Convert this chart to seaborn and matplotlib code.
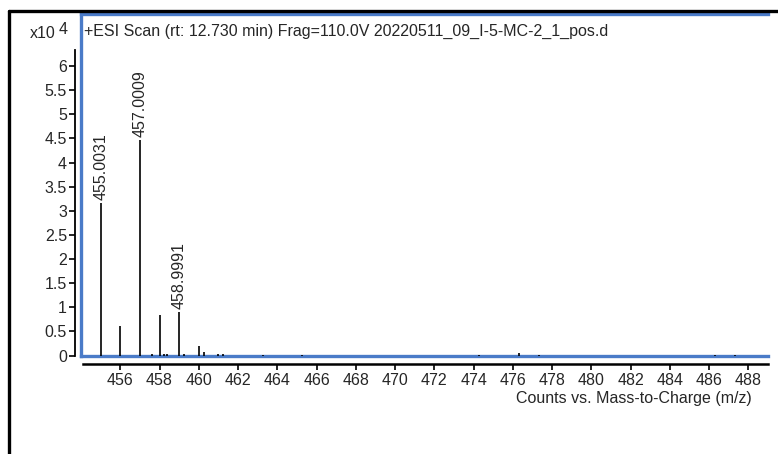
import matplotlib
matplotlib.use("Agg")
import matplotlib.pyplot as plt
from matplotlib.lines import Line2D
import seaborn as sns

# peak list (m/z, counts in units of 1e4)
mz = [455.0031, 456.006, 457.0009, 458.003, 458.9991, 460.0,
      457.63, 458.24, 458.40, 459.23, 460.28, 460.99, 461.25,
      463.25, 465.26, 474.29, 476.31, 477.33, 486.30, 487.34]
counts = [3.17, 0.61, 4.47, 0.85, 0.90, 0.19,
          0.03, 0.04, 0.04, 0.04, 0.07, 0.03, 0.03,
          0.02, 0.02, 0.02, 0.06, 0.02, 0.02, 0.02]
labelled = [455.0031, 457.0009, 458.9991]
xticks = list(range(456, 489, 2))
yticks = [i * 0.5 for i in range(13)]
title = "+ESI Scan (rt: 12.730 min) Frag=110.0V 20220511_09_I-5-MC-2_1_pos.d"
xlabel = "Counts vs. Mass-to-Charge (m/z)"

sns.set_theme(style = "white")
plt.rcParams["font.family"] = ["Liberation Sans", "DejaVu Sans"]
fs = 11.5

blue = "#4A7BC8"
fig = plt.figure(figsize = (7.78, 4.54), dpi = 100)
pos = [81 / 778, 1 - 356 / 454, 687 / 778, 342 / 454]
ax = fig.add_axes(pos)
ax.vlines(mz, 0, counts, color = "black", linewidth = 1.2)
for x, y in zip(mz, counts):
    if x in labelled:
        ax.annotate(f"{x:.4f}", (x, y), xytext = (0, 2), textcoords = "offset points",
                    rotation = 90, ha = "center", va = "bottom", fontsize = fs)
ax.set_xlim(454.0, 489.0)
ax.set_ylim(-0.01, 7.08)
ax.set_xticks(xticks)
ax.set_yticks(yticks)
ax.set_yticklabels([f"{v:g}" for v in yticks])
sns.despine(ax = ax, top = True, right = True)
ax.spines["left"].set_position(("outward", 4))
ax.spines["left"].set_bounds(0, 6.34)
ax.spines["left"].set_color("black")
ax.spines["left"].set_linewidth(1.3)
ax.spines["bottom"].set_position(("outward", 6))
ax.spines["bottom"].set_bounds(454.1, 489.0)
ax.spines["bottom"].set_color("black")
ax.spines["bottom"].set_linewidth(1.8)
ax.tick_params(axis = "both", direction = "out", length = 4, width = 1.2, color = "black",
               labelsize = fs, pad = 2, left = True, bottom = True)
ax.set_facecolor("none")
ax.grid(False)

# blue frame
frame = fig.add_axes(pos, zorder = -1)
frame.set_xticks([])
frame.set_yticks([])
frame.set_facecolor("white")
for side in ["left", "top", "bottom"]:
    frame.spines[side].set_color(blue)
    frame.spines[side].set_linewidth(2.4)
frame.spines["right"].set_visible(False)

frame.text(0.005, 1 - 17 / 342, title, transform = frame.transAxes, ha = "left", va = "center", fontsize = fs)
fig.text(752 / 778, 1 - 398 / 454, xlabel, ha = "right", va = "center", fontsize = fs)
fig.text(30 / 778, 1 - 34 / 454, "x10", ha = "left", va = "center", fontsize = fs)
fig.text(59 / 778, 1 - 29 / 454, "4", ha = "left", va = "center", fontsize = fs)

# outer border
fig.add_artist(Line2D([9 / 778, 1], [1 - 11 / 454, 1 - 11 / 454], color = "black", linewidth = 2.4, transform = fig.transFigure))
fig.add_artist(Line2D([9 / 778, 9 / 778], [0, 1 - 11 / 454], color = "black", linewidth = 2.4, transform = fig.transFigure))

fig.savefig("out.png", dpi = 100)
